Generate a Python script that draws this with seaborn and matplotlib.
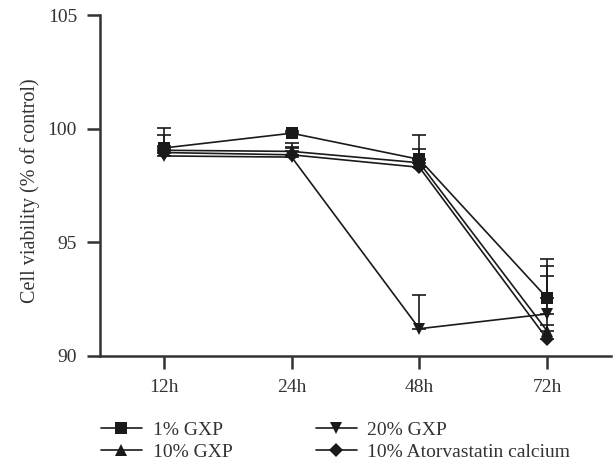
import matplotlib
matplotlib.use("Agg")
import matplotlib.pyplot as plt
import pandas as pd
import numpy as np
import seaborn as sns

times = ["12h", "24h", "48h", "72h"]
groups = ["1% GXP", "10% GXP", "20% GXP", "10% Atorvastatin calcium"]

gxp_1 = [99.15, 99.8, 98.65, 92.55]
gxp_10 = [99.05, 99.0, 98.5, 91.1]
gxp_20 = [98.8, 98.75, 91.2, 91.85]
atorva = [98.95, 98.85, 98.3, 90.75]

sd_1 = [0.9, 0.1, 1.05, 1.7]
sd_10 = [0.65, 0.35, 0.6, 2.4]
sd_20 = [0.2, 0.45, 1.5, 2.1]
sd_atorva = [0.3, 0.3, 0.3, 0.6]

markers = {"1% GXP": "s", "10% GXP": "^", "20% GXP": "v",
           "10% Atorvastatin calcium": "D"}

sns.set_style("ticks")
plt.rcParams['font.family'] = ['Liberation Serif', 'DejaVu Serif']

rows = []
for g, vals, sds in zip(groups, [gxp_1, gxp_10, gxp_20, atorva],
                        [sd_1, sd_10, sd_20, sd_atorva]):
    for t, v, s in zip(times, vals, sds):
        rows.append({"time": t, "viability": v, "sd": s, "group": g})
df = pd.DataFrame(rows)

fig = plt.figure(figsize=(6.13, 4.70), dpi=100)
ax = fig.add_axes([100/613, 1-356/470, 511/613, 341/470])

# upper error bars only
for g in groups:
    sub = df[df.group == g]
    ax.errorbar(sub.time, sub.viability, yerr=[np.zeros(len(sub)), sub.sd],
                fmt='none', ecolor='#1a1a1a', elinewidth=1.2, capsize=5,
                capthick=1.2, zorder=2)

sns.lineplot(data=df, x="time", y="viability", style="group", hue="group",
             palette=["#1a1a1a"]*4, markers=markers, dashes=False,
             markersize=9, markeredgewidth=0, linewidth=1.2, ax=ax,
             zorder=3, legend=True)
# diamond a bit smaller
for ln in ax.lines:
    if ln.get_marker() == "D":
        ln.set_markersize(7.5)

ax.set_xlim(-0.5, 3.5)
ax.set_ylim(90, 105)
ax.set_yticks([90, 95, 100, 105])
ax.set_xlabel("")
ax.set_ylabel("Cell viability (% of control)", fontsize=14.5, color="#333333")
ax.yaxis.set_label_coords(-0.118, 0.484)
ax.tick_params(axis='both', labelsize=14, length=9.5, width=1.8,
               colors="#333333", labelcolor="#333333", pad=7)
for side in ["top", "right"]:
    ax.spines[side].set_visible(False)
for side in ["left", "bottom"]:
    ax.spines[side].set_linewidth(1.8)
    ax.spines[side].set_color("#333333")

ax.get_legend().remove()
handles, labels = ax.get_legend_handles_labels()
for h in handles:
    if h.get_marker() == "D":
        h.set_markersize(7.5)
fig.legend(handles, labels, loc="upper left",
           bbox_to_anchor=(101/613, 1-421/470), ncol=2, frameon=False,
           fontsize=14, handlelength=2.1, handletextpad=0.55,
           columnspacing=4.3, labelspacing=0.25, borderpad=0,
           borderaxespad=0, labelcolor="#333333")

fig.savefig("out.png", dpi=100)
